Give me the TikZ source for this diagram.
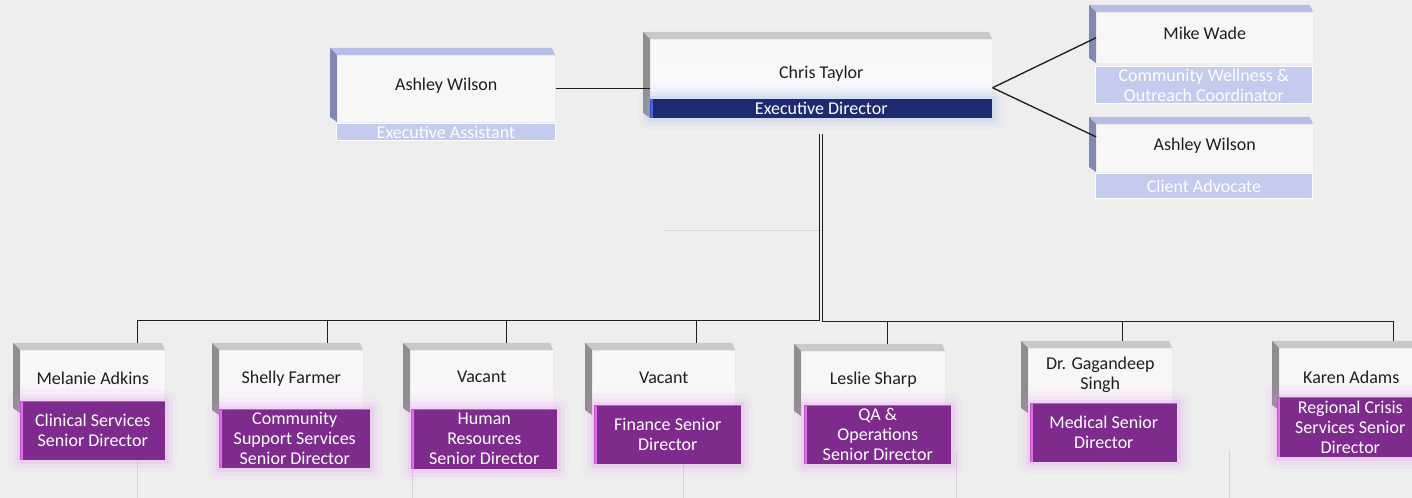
\documentclass[tikz,border=0pt]{standalone}
\usepackage{fontspec}
\setmainfont{Carlito}

\definecolor{fondo}{HTML}{EEEEEE}
\definecolor{grisclaro}{HTML}{C9C9C9}
\definecolor{grisoscuro}{HTML}{8E8E8E}
\definecolor{azulclaro}{HTML}{B7BFE8}
\definecolor{azulgris}{HTML}{8189B3}
\definecolor{celeste}{HTML}{C3CBEF}
\definecolor{marino}{HTML}{1D2A6F}
\definecolor{azulvivo}{HTML}{4568E6}
\definecolor{halo}{HTML}{9FB6EA}
\definecolor{morado}{HTML}{7E2B8D}
\definecolor{fucsia}{HTML}{E56BF0}
\definecolor{rosa}{HTML}{D98AE3}
\definecolor{trazo}{HTML}{1E1E1E}

\newcommand{\letra}{\fontsize{13.5}{15}\selectfont}

\tikzset{
	cara/.style={anchor=north west, inner sep=0pt, draw=black!8, line width=0.4pt},
	nombre/.style={font=\letra, text=black!88, align=center},
	barra/.style={anchor=north west, inner sep=0pt, align=center, text=white, font=\letra},
	lila-tapa/.style={fill=grisclaro}, lila-lado/.style={fill=grisoscuro},
	lila-cara/.style={top color=black!3, bottom color=rosa!14!white, middle color=black!3},
	cielo-tapa/.style={fill=grisclaro}, cielo-lado/.style={fill=grisoscuro},
	cielo-cara/.style={top color=black!3, bottom color=halo!35!white, middle color=black!2},
	azul-tapa/.style={fill=azulclaro}, azul-lado/.style={fill=azulgris},
	azul-cara/.style={fill=black!3},
	rol-celeste/.style={fill=celeste, draw=white, line width=0.6pt},
	rol-marino/.style={fill=marino, line join=round,
		preaction={draw=halo, line width=18pt, opacity=0.06},
		preaction={draw=halo, line width=11pt, opacity=0.1},
		preaction={draw=halo, line width=5pt, opacity=0.16},
		path picture={\fill[azulvivo] (path picture bounding box.north west) rectangle ([xshift=2pt]path picture bounding box.south west);}},
	rol-morado/.style={fill=morado, line join=round,
		preaction={draw=rosa, line width=18pt, opacity=0.06},
		preaction={draw=rosa, line width=11pt, opacity=0.09},
		preaction={draw=rosa, line width=5pt, opacity=0.15},
		path picture={\fill[fucsia] (path picture bounding box.north west) rectangle ([xshift=2.2pt]path picture bounding box.south west);
			\draw[fucsia!70!morado, line width=0.8pt] (path picture bounding box.north west) -- (path picture bounding box.north east);}},
	linea/.style={draw=trazo, line width=1pt},
	tenue/.style={draw=black!16, line width=0.6pt}
}

% caja: id, x izq, y sup, x der, y inf, y del nombre, colores, nombre
\newcommand{\caja}[8]{%
	\fill[#7-tapa] (#2,#3) -- (#4-3,#3) -- (#4,#3+7) -- (#2+7,#3+7) -- cycle;
	\fill[#7-lado] (#2,#3) -- (#2+7,#3+7) -- (#2+7,#5) -- (#2,#5-5) -- cycle;
	\node[cara, #7-cara, minimum width={(#4-#2-7)*0.75pt}, minimum height={(#5-#3-7)*0.75pt},
		label={[nombre, yshift={((#3+7+#5)/2-#6)*0.75pt}]center:{#8}}] (#1) at (#2+7,#3+7) {};
}
% rol: id, x izq, y sup, x der, y inf, estilo, texto
\newcommand{\rol}[7]{%
	\node[barra, #6, minimum width={(#4-#2)*0.75pt}, minimum height={(#5-#3)*0.75pt}] (#1) at (#2,#3) {#7};
}

\begin{document}
\begin{tikzpicture}[x=0.75pt, y=-0.75pt]

	%FONDO
	\clip (0,0) rectangle (1412,498);
	\fill[fondo] (0,0) rectangle (1412,498);

	%LINEAS TENUES
	\draw[tenue] (663,230) -- (820,230);
	\draw[tenue]
		(137,440) -- (137,498)
		(412,450) -- (412,498)
		(683,450) -- (683,498)
		(956,452) -- (956,498)
		(1229,450) -- (1229,498)
	;

	%DIRECCION
	\caja{director}{643}{32}{992}{118}{73}{cielo}{Chris Taylor}
	\rol{director-rol}{650}{99}{992}{118}{rol-marino}{Executive Director}

	\caja{asistente}{330}{48}{555}{122}{85}{azul}{Ashley Wilson}
	\rol{asistente-rol}{336}{123}{555}{140}{rol-celeste}{Executive Assistant}

	\caja{coordinador}{1089}{5}{1313}{63}{33}{azul}{Mike Wade}
	\rol{coordinador-rol}{1095}{66}{1312}{103}{rol-celeste}{Community Wellness \&\\Outreach Coordinator}

	\caja{defensor}{1089}{117}{1313}{172}{145}{azul}{Ashley Wilson}
	\rol{defensor-rol}{1095}{173}{1312}{198}{rol-celeste}{Client Advocate}

	%SENIOR DIRECTORS
	\caja{clinica}{13}{343}{165}{413}{378}{lila}{Melanie Adkins}
	\rol{clinica-rol}{20}{401}{165}{460}{rol-morado}{Clinical Services\\Senior Director}

	\caja{comunidad}{212}{343}{363}{415}{378}{lila}{Shelly Farmer}
	\rol{comunidad-rol}{219}{409}{370}{468}{rol-morado}{Community\\Support Services\\Senior Director}

	\caja{rrhh}{403}{343}{553}{413}{377}{lila}{Vacant}
	\rol{rrhh-rol}{411}{409}{557}{469}{rol-morado}{Human\\Resources\\Senior Director}

	\caja{finanzas}{585}{343}{735}{415}{378}{lila}{Vacant}
	\rol{finanzas-rol}{594}{405}{741}{464}{rol-morado}{Finance Senior\\Director}

	\caja{calidad}{794}{344}{945}{416}{379}{lila}{Leslie Sharp}
	\rol{calidad-rol}{804}{405}{951}{464}{rol-morado}{QA \&\\Operations\\Senior Director}

	\caja{medica}{1021}{341}{1172}{413}{375}{lila}{Dr. Gagandeep\\Singh}
	\rol{medica-rol}{1030}{403}{1177}{462}{rol-morado}{Medical Senior\\Director}

	\caja{regional}{1272}{341}{1423}{410}{377}{lila}{Karen Adams}
	\rol{regional-rol}{1277}{397}{1423}{457}{rol-morado}{Regional Crisis\\Services Senior\\Director}

	%CONECTORES
	\draw[linea] (asistente.east) -- (asistente.east -| director.west);
	\draw[linea] (director.-3) -- (coordinador.west);
	\draw[linea] (director.-3) -- (defensor.174);

	\coordinate (busI) at ([shift={(-1.5,202)}]director-rol.south);
	\coordinate (busD) at ([shift={(1.5,203)}]director-rol.south);
	\draw[linea] ([shift={(-1.5,15)}]director-rol.south) -- (busI);
	\draw[linea] ([shift={(1.5,15)}]director-rol.south) -- (busD);
	\foreach \n/\dx in {clinica/44.5, comunidad/36, rrhh/24.5, finanzas/32.5}
		\draw[linea] (busI) -| ([shift={(\dx,-7)}]\n.north);
	\foreach \n/\dx in {calidad/14, medica/22, regional/42}
		\draw[linea] (busD) -| ([shift={(\dx,-7)}]\n.north);

\end{tikzpicture}
\end{document}
